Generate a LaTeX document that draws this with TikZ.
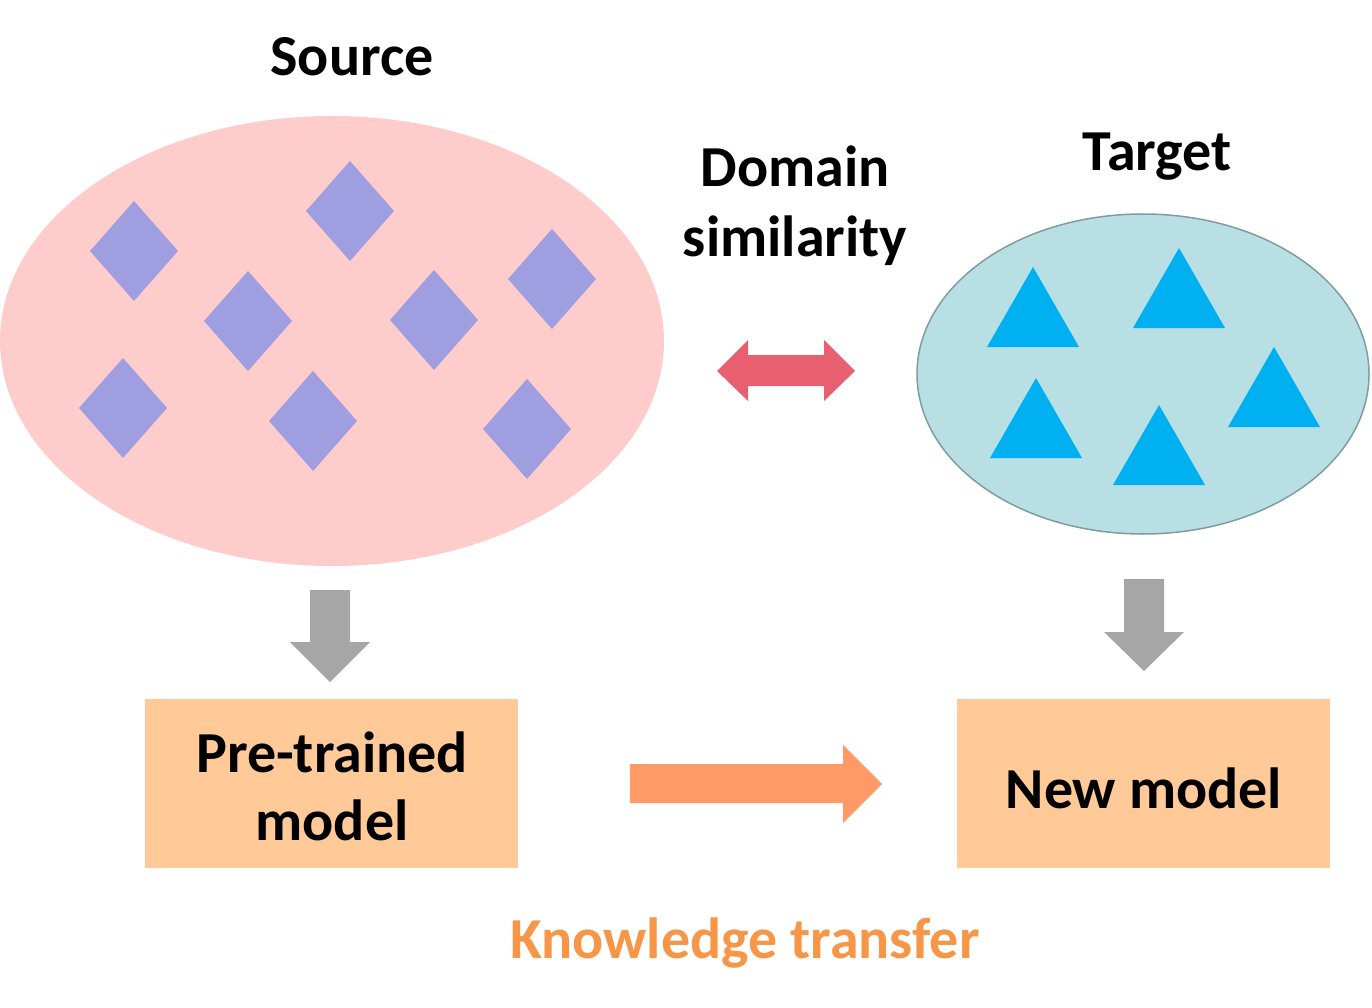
\documentclass[tikz,border=0pt]{standalone}
\usepackage{fontspec}
\setmainfont{Carlito}
\usetikzlibrary{shapes.geometric}
\definecolor{srcfill}{HTML}{FFCCCC}
\definecolor{diafill}{HTML}{9E9EE0}
\definecolor{tgtfill}{HTML}{B8E0E4}
\definecolor{tgtline}{HTML}{7F9C9E}
\definecolor{trifill}{HTML}{00B0F0}
\definecolor{dblarrow}{HTML}{E86070}
\definecolor{grayarrow}{HTML}{A6A6A6}
\definecolor{boxfill}{HTML}{FFCA98}
\definecolor{orarrow}{HTML}{FF9966}
\definecolor{ortext}{HTML}{F79646}
\tikzset{
  lbl/.style={font=\bfseries\fontsize{58}{70}\selectfont, align=center, inner sep=0pt},
  modelbox/.style={fill=boxfill, minimum width=373pt, minimum height=169pt, inner sep=0pt,
                   font=\bfseries\fontsize{58}{68}\selectfont, align=center},
  dia/.style={fill=diafill},
  tri/.style={fill=trifill},
}
\begin{document}
\begin{tikzpicture}[x=1pt,y=-1pt]
\useasboundingbox (0,0) rectangle (1372,1008);
% source ellipse
\fill[srcfill] (332,341) ellipse [x radius=332, y radius=225];
\node[lbl] (src) at (352,57) {Source};
\foreach \cx/\cy in {134/251, 350/211, 248/321, 434/320, 552/279, 123/408, 313/421, 527/429}
  \fill[dia] (\cx-44,\cy) -- (\cx,\cy-50) -- (\cx+44,\cy) -- (\cx,\cy+50) -- cycle;
% target ellipse
\filldraw[fill=tgtfill, draw=tgtline, line width=1.5pt] (1143,374) ellipse [x radius=226, y radius=160];
\node[lbl] (tgt) at (1157,157) {Target};
\foreach \ax/\ay in {1033/267, 1179/248, 1036/378, 1159/405, 1274/347}
  \fill[tri] (\ax,\ay) -- (\ax+46,\ay+80) -- (\ax-46,\ay+80) -- cycle;
% domain similarity
\node[lbl] (dom) at (795,206) {Domain\\similarity};
\coordinate (dbl) at (786,371);
\fill[dblarrow] ([xshift=-69pt]dbl) -- ([xshift=-38pt,yshift=-30pt]dbl) -- ([xshift=-38pt,yshift=-15pt]dbl)
  -- ([xshift=38pt,yshift=-15pt]dbl) -- ([xshift=38pt,yshift=-30pt]dbl) -- ([xshift=69pt]dbl)
  -- ([xshift=38pt,yshift=31pt]dbl) -- ([xshift=38pt,yshift=16pt]dbl) -- ([xshift=-38pt,yshift=16pt]dbl)
  -- ([xshift=-38pt,yshift=31pt]dbl) -- cycle;
% boxes
\node[modelbox] (pre) at (331.5,783.5) {};
\node[lbl] (pretxt) at (332,786) {Pre-trained\\[-2pt]model};
\node[modelbox] (new) at (1143.5,783.5) {};
\node[lbl] (newtxt) at (1144,788) {New model};
% gray arrows
\fill[grayarrow] (310,590) -- (350,590) -- (350,642) -- (370,642) -- (330,682) -- (290,642) -- (310,642) -- cycle;
\fill[grayarrow] (1124,579) -- (1164,579) -- (1164,632) -- (1184,632) -- (1144,671) -- (1104,632) -- (1124,632) -- cycle;
% knowledge transfer arrow
\fill[orarrow] (630,764) -- (843,764) -- (843,745) -- (882,784) -- (843,823) -- (843,803) -- (630,803) -- cycle;
\node[lbl, text=ortext] (kt) at (745,943) {Knowledge transfer};
\end{tikzpicture}
\end{document}
